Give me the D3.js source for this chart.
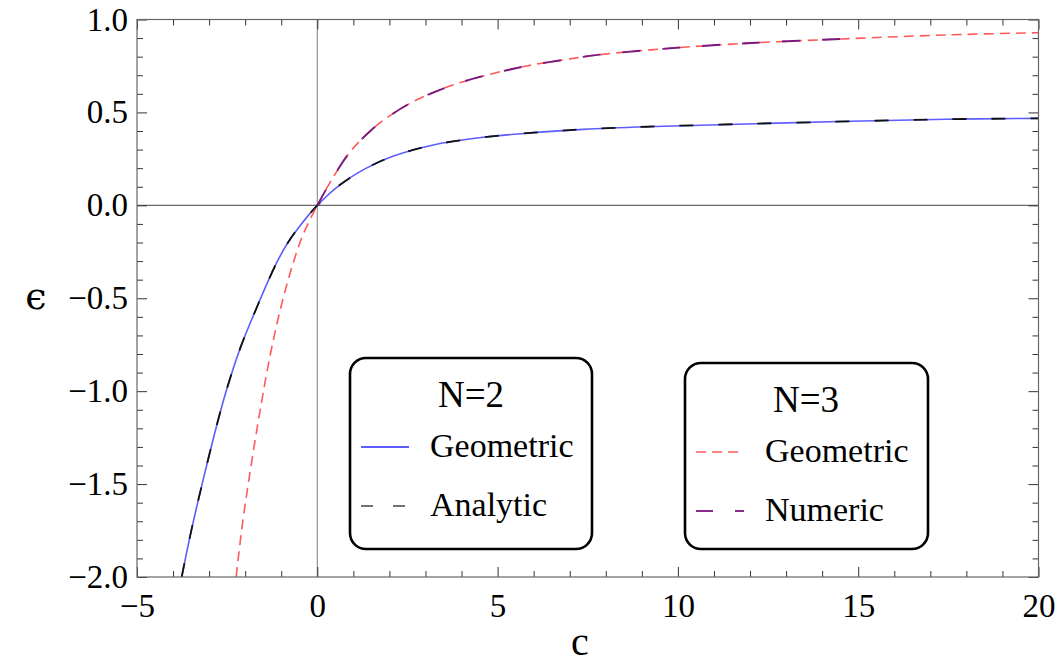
<!DOCTYPE html>
<html>
<head>
<meta charset="utf-8">
<script src="https://cdn.jsdelivr.net/npm/d3@7"></script>
<style>
  html, body { margin: 0; padding: 0; background: #fff; }
  svg { display: block; }
  text { font-family: "Liberation Serif", "Times New Roman", serif; fill: #000; }
</style>
</head>
<body>
<svg id="chart" width="1060" height="663"></svg>
<script>
// ---- data ----
const n2GeoC = [-3.76, -3.55, -3.30, -2.98, -2.75, -2.52, -2.14, -1.68, -1.13, -0.80, -0.50, 0, 0.62, 1.36, 2.11, 3.22, 4.60, 5.99, 7.38, 9.13, 12.46, 17.45, 20];
const n2GeoE = [-2.0, -1.80, -1.586, -1.33, -1.155, -0.995, -0.77, -0.55, -0.31, -0.196, -0.115, 0, 0.109, 0.200, 0.265, 0.325, 0.366, 0.391, 0.409, 0.423, 0.441, 0.463, 0.468];

const n2AnaC = [-3.76, -3.55, -3.30, -2.98, -2.75, -2.52, -2.14, -1.68, -1.13, -0.80, -0.50, 0, 0.62, 1.36, 2.11, 3.22, 4.60, 5.99, 7.38, 9.13, 12.46, 17.45, 20];
const n2AnaE = [-2.0, -1.80, -1.586, -1.33, -1.155, -0.995, -0.77, -0.55, -0.31, -0.196, -0.115, 0, 0.109, 0.200, 0.265, 0.325, 0.366, 0.391, 0.409, 0.423, 0.441, 0.463, 0.468];

const n3GeoC = [-2.25, -2.10, -1.90, -1.60, -1.30, -1.00, -0.70, -0.40, 0, 0.45, 0.91, 1.47, 1.92, 2.66, 3.68, 4.70, 5.81, 7.10, 7.84, 9.97, 12.18, 14.50, 17.45, 20];
const n3GeoE = [-2.0, -1.75, -1.48, -1.12, -0.80, -0.54, -0.33, -0.16, 0, 0.154, 0.288, 0.400, 0.470, 0.558, 0.642, 0.701, 0.750, 0.791, 0.811, 0.848, 0.875, 0.895, 0.917, 0.929];

const n3NumC = [0, 0.45, 0.91, 1.47, 1.92, 2.66, 3.68, 4.70, 5.81, 7.10, 7.84, 9.97, 12.18, 14.6];
const n3NumE = [0, 0.154, 0.288, 0.400, 0.470, 0.558, 0.642, 0.701, 0.750, 0.791, 0.811, 0.848, 0.875, 0.896];

const xMajorTicks = [-5, 0, 5, 10, 15, 20];
const yMajorTicks = [-2.0, -1.5, -1.0, -0.5, 0.0, 0.5, 1.0];
const xLabel = "c";
const yLabel = "\u03F5";
const legendN2Title = "N=2";
const legendN2Items = ["Geometric", "Analytic"];
const legendN3Title = "N=3";
const legendN3Items = ["Geometric", "Numeric"];

// ---- layout ----
const svg = d3.select("#chart");
const L = 137, R = 1038.5, T = 19.5, B = 577;
const x = d3.scaleLinear().domain([-5, 20]).range([L, R]);
const y = d3.scaleLinear().domain([-2, 1]).range([B, T]);

const xMinor = d3.range(-5, 20.001, 1).filter(v => !xMajorTicks.includes(v));
const yMinor = d3.range(-20, 10.001, 1).map(v => v / 10).filter(v => Math.abs(v * 2 - Math.round(v * 2)) > 1e-6);

svg.append("defs").append("clipPath").attr("id", "clip")
  .append("rect").attr("x", L).attr("y", T).attr("width", R - L).attr("height", B - T);

// zero axes
svg.append("line").attr("x1", x(0)).attr("x2", x(0)).attr("y1", T).attr("y2", B)
  .attr("stroke", "#8a8a8a").attr("stroke-width", 1.1);
svg.append("line").attr("x1", L).attr("x2", R).attr("y1", y(0)).attr("y2", y(0))
  .attr("stroke", "#6a6a6a").attr("stroke-width", 1.1);

// ---- curves ----
const line = (cs, es) => d3.line()
  .x((d, i) => x(cs[i])).y((d, i) => y(es[i]))
  .curve(d3.curveCatmullRom.alpha(0.5))(cs);

const g = svg.append("g").attr("clip-path", "url(#clip)");
g.append("path").attr("d", line(n2GeoC, n2GeoE)).attr("fill", "none")
  .attr("stroke", "#5c5cff").attr("stroke-width", 1.6);
g.append("path").attr("d", line(n2AnaC, n2AnaE)).attr("fill", "none")
  .attr("stroke", "#111").attr("stroke-width", 1.8).attr("stroke-dasharray", "14 25");
g.append("path").attr("d", line(n3GeoC, n3GeoE)).attr("fill", "none")
  .attr("stroke", "#ff5a5a").attr("stroke-width", 1.6).attr("stroke-dasharray", "10 6");
g.append("path").attr("d", line(n3NumC, n3NumE)).attr("fill", "none")
  .attr("stroke", "#7a1a80").attr("stroke-width", 1.9).attr("stroke-dasharray", "18 22");

// ---- frame & ticks ----
const tickStyle = sel => {
  sel.select(".domain").remove();
  sel.selectAll(".tick line").attr("stroke", "#333").attr("stroke-width", 1);
  sel.selectAll(".tick text").style("font-size", "33px").style("font-family", "'Liberation Serif', serif");
};
const fmtY = d3.format(".1f");
const fmtX = d3.format("d");

svg.append("g").attr("transform", `translate(0,${B})`)
  .call(d3.axisBottom(x).tickValues(xMajorTicks).tickSize(-10).tickPadding(17).tickFormat(fmtX)).call(tickStyle);
svg.append("g").attr("transform", `translate(0,${B})`)
  .call(d3.axisBottom(x).tickValues(xMinor).tickSize(-6).tickFormat("")).call(tickStyle);
svg.append("g").attr("transform", `translate(0,${T})`)
  .call(d3.axisTop(x).tickValues(xMajorTicks).tickSize(-10).tickFormat("")).call(tickStyle);
svg.append("g").attr("transform", `translate(0,${T})`)
  .call(d3.axisTop(x).tickValues(xMinor).tickSize(-6).tickFormat("")).call(tickStyle);

svg.append("g").attr("transform", `translate(${L},0)`)
  .call(d3.axisLeft(y).tickValues(yMajorTicks).tickSize(-10).tickPadding(9).tickFormat(fmtY)).call(tickStyle);
svg.append("g").attr("transform", `translate(${L},0)`)
  .call(d3.axisLeft(y).tickValues(yMinor).tickSize(-6).tickFormat("")).call(tickStyle);
svg.append("g").attr("transform", `translate(${R},0)`)
  .call(d3.axisRight(y).tickValues(yMajorTicks).tickSize(-10).tickFormat("")).call(tickStyle);
svg.append("g").attr("transform", `translate(${R},0)`)
  .call(d3.axisRight(y).tickValues(yMinor).tickSize(-6).tickFormat("")).call(tickStyle);

svg.append("rect").attr("x", L).attr("y", T).attr("width", R - L).attr("height", B - T)
  .attr("fill", "none").attr("stroke", "#666").attr("stroke-width", 1.2);

// axis labels
svg.append("text").attr("x", 580).attr("y", 655).attr("text-anchor", "middle")
  .style("font-size", "40px").text(xLabel);
svg.append("text").attr("x", 36).attr("y", 309).attr("text-anchor", "middle")
  .style("font-family", "'DejaVu Serif', serif").style("font-size", "38px").text(yLabel);

// ---- legends ----
function legend(bx, by, bw, bh, title, titleX, items, styles) {
  const lg = svg.append("g");
  lg.append("rect").attr("x", bx).attr("y", by).attr("width", bw).attr("height", bh)
    .attr("rx", 16).attr("ry", 16).attr("fill", "#fff").attr("stroke", "#000").attr("stroke-width", 2.6);
  lg.append("text").attr("x", titleX).attr("y", by + 49).attr("text-anchor", "middle")
    .style("font-size", "37px").text(title);
  items.forEach((t, i) => {
    const ly = by + 89 + i * 59;
    lg.append("line").attr("x1", bx + 11).attr("x2", bx + 59).attr("y1", ly).attr("y2", ly)
      .attr("stroke", styles[i].c).attr("stroke-width", styles[i].w)
      .attr("stroke-dasharray", styles[i].d);
    lg.append("text").attr("x", bx + 80).attr("y", ly + 10).style("font-size", "34px").text(t);
  });
}
legend(350, 358, 242, 191, legendN2Title, 471, legendN2Items,
  [{ c: "#5c5cff", w: 1.8, d: null }, { c: "#444", w: 1.6, d: "12 20" }]);
legend(685, 363, 243, 186, legendN3Title, 806, legendN3Items,
  [{ c: "#ff5a5a", w: 1.4, d: "10 6" }, { c: "#8a2a90", w: 1.8, d: "17 22" }]);
</script>
</body>
</html>
